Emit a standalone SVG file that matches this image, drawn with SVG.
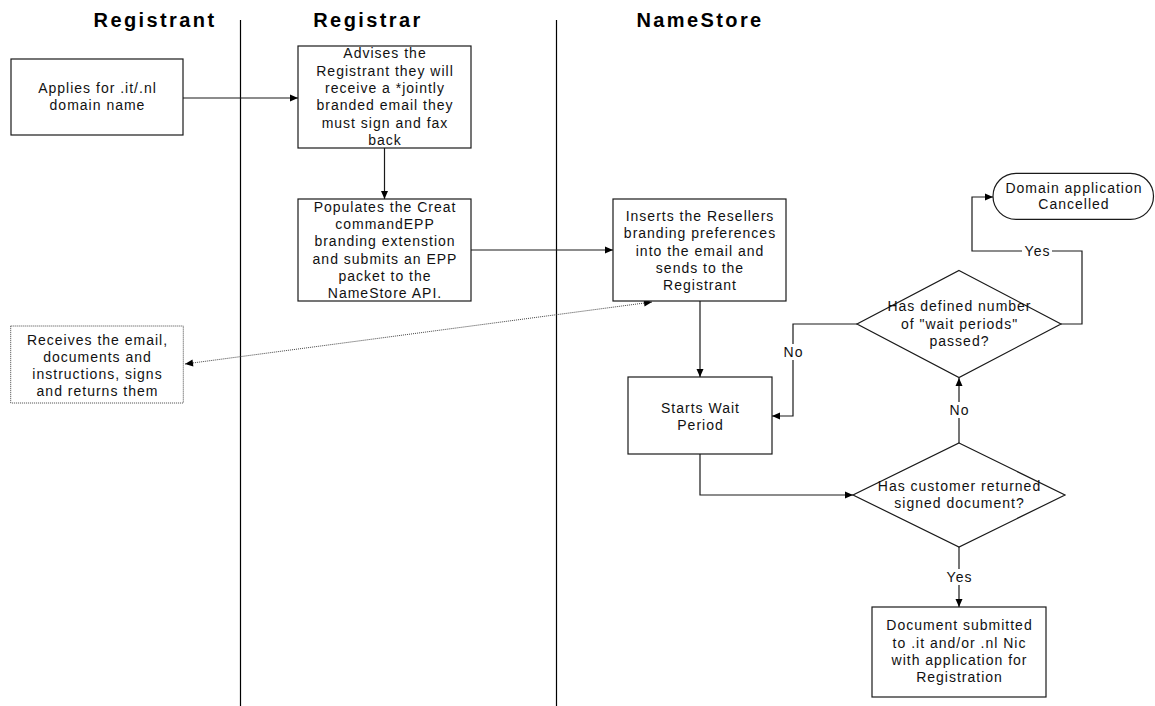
<svg xmlns="http://www.w3.org/2000/svg" width="1155" height="706" viewBox="0 0 1155 706">
<defs>
<style>
.box{fill:#fff;stroke:#1a1a1a;stroke-width:1.2}
.dbox{fill:#fff;stroke:#444;stroke-width:1;stroke-dasharray:1 1}
.lane{stroke:#000;stroke-width:1.2;fill:none}
.c{fill:none;stroke:#1a1a1a;stroke-width:1.2}
.dot{fill:none;stroke:#444;stroke-width:1;stroke-dasharray:1 1}
.t{font-family:"Liberation Sans",Arial,sans-serif;font-size:14px;letter-spacing:1px;fill:#111;text-anchor:middle}
.h{font-family:"Liberation Sans",Arial,sans-serif;font-size:20px;font-weight:bold;letter-spacing:2.4px;fill:#000;text-anchor:middle}
.lbl{fill:#fff;stroke:none}
</style>
<marker id="arr" markerUnits="userSpaceOnUse" markerWidth="10" markerHeight="10" viewBox="0 0 10 10" refX="10" refY="5" orient="auto">
<path d="M2,1.5 L10,5 L2,8.5 Z" fill="#000"/>
</marker>
<marker id="arrs" markerUnits="userSpaceOnUse" markerWidth="10" markerHeight="10" viewBox="0 0 10 10" refX="0" refY="5" orient="auto">
<path d="M8,1.5 L0,5 L8,8.5 Z" fill="#000"/>
</marker>
</defs>
<rect width="1155" height="706" fill="#fff"/>

<g id="lanes">
<line class="lane" x1="240.5" y1="20" x2="240.5" y2="706"/>
<line class="lane" x1="556.5" y1="20" x2="556.5" y2="706"/>
<text class="h" x="155" y="26.5">Registrant</text>
<text class="h" x="368" y="26.5">Registrar</text>
<text class="h" x="700" y="26.5">NameStore</text>
</g>

<g id="connectors">
<path class="c" d="M183,98 H298" marker-end="url(#arr)"/>
<path class="c" d="M384.5,148 V199" marker-end="url(#arr)"/>
<path class="c" d="M471,250 H613" marker-end="url(#arr)"/>
<path class="dot" d="M185,364 L652,302" marker-start="url(#arrs)" marker-end="url(#arr)"/>
<path class="c" d="M700,301 V377" marker-end="url(#arr)"/>
<path class="c" d="M700,454 V495 H853" marker-end="url(#arr)"/>
<path class="c" d="M959,547 V607" marker-end="url(#arr)"/>
<path class="c" d="M959,443 V378" marker-end="url(#arr)"/>
<path class="c" d="M857,324 H793 V416 H772" marker-end="url(#arr)"/>
<path class="c" d="M1061,324 H1082 V251 H972 V197 H993" marker-end="url(#arr)"/>
<rect class="lbl" x="945" y="569" width="28" height="16"/>
<text class="t" x="959.5" y="582">Yes</text>
<rect class="lbl" x="948" y="402" width="22" height="16"/>
<text class="t" x="959.5" y="415">No</text>
<rect class="lbl" x="782" y="344" width="22" height="16"/>
<text class="t" x="793.5" y="357">No</text>
<rect class="lbl" x="1022" y="243" width="30" height="16"/>
<text class="t" x="1037.5" y="256">Yes</text>
</g>

<g id="n-applies">
<rect class="box" x="11" y="59" width="172" height="76"/>
<text class="t" x="97.5" y="93">Applies for .it/.nl</text>
<text class="t" x="97.5" y="110.3">domain name</text>
</g>

<g id="n-receives">
<rect class="dbox" x="10.7" y="326" width="172.6" height="77"/>
<text class="t" x="97.5" y="345.3">Receives the email,</text>
<text class="t" x="97.5" y="362.3">documents and</text>
<text class="t" x="97.5" y="379.3">instructions, signs</text>
<text class="t" x="97.5" y="396">and returns them</text>
</g>

<g id="n-advises">
<rect class="box" x="298" y="46" width="173" height="102"/>
<text class="t" x="385" y="58.3">Advises the</text>
<text class="t" x="385" y="75.6">Registrant they will</text>
<text class="t" x="385" y="93">receive a *jointly</text>
<text class="t" x="385" y="110.3">branded email they</text>
<text class="t" x="385" y="127.6">must sign and fax</text>
<text class="t" x="385" y="145">back</text>
</g>

<g id="n-populates">
<rect class="box" x="298" y="199" width="173" height="102"/>
<text class="t" x="385" y="211.7">Populates the Creat</text>
<text class="t" x="385" y="229">commandEPP</text>
<text class="t" x="385" y="246.3">branding extenstion</text>
<text class="t" x="385" y="263.6">and submits an EPP</text>
<text class="t" x="385" y="281">packet to the</text>
<text class="t" x="385" y="298.3">NameStore API.</text>
</g>

<g id="n-inserts">
<rect class="box" x="613" y="199" width="173" height="102"/>
<text class="t" x="700" y="221">Inserts the Resellers</text>
<text class="t" x="700" y="238.3">branding preferences</text>
<text class="t" x="700" y="255.7">into the email and</text>
<text class="t" x="700" y="273">sends to the</text>
<text class="t" x="700" y="290.3">Registrant</text>
</g>

<g id="n-wait">
<rect class="box" x="628" y="377" width="144" height="77"/>
<text class="t" x="700.5" y="412.5">Starts Wait</text>
<text class="t" x="700.5" y="429.8">Period</text>
</g>

<g id="n-returned">
<polygon class="box" points="959,443 1065,495 959,547 853,495"/>
<text class="t" x="959.5" y="491">Has customer returned</text>
<text class="t" x="959.5" y="508.3">signed document?</text>
</g>

<g id="n-periods">
<polygon class="box" points="959,270.5 1061,324 959,377.5 857,324"/>
<text class="t" x="959.5" y="311">Has defined number</text>
<text class="t" x="959.5" y="328.5">of "wait periods"</text>
<text class="t" x="959.5" y="346">passed?</text>
</g>

<g id="n-cancelled">
<rect class="box" x="993" y="173.3" width="160.5" height="46" rx="23" ry="23"/>
<text class="t" x="1074" y="192.5">Domain application</text>
<text class="t" x="1074" y="209.3">Cancelled</text>
</g>

<g id="n-submitted">
<rect class="box" x="872" y="607" width="174" height="90"/>
<text class="t" x="959.5" y="630">Document submitted</text>
<text class="t" x="959.5" y="647.5">to .it and/or .nl Nic</text>
<text class="t" x="959.5" y="665">with application for</text>
<text class="t" x="959.5" y="682.3">Registration</text>
</g>
</svg>
